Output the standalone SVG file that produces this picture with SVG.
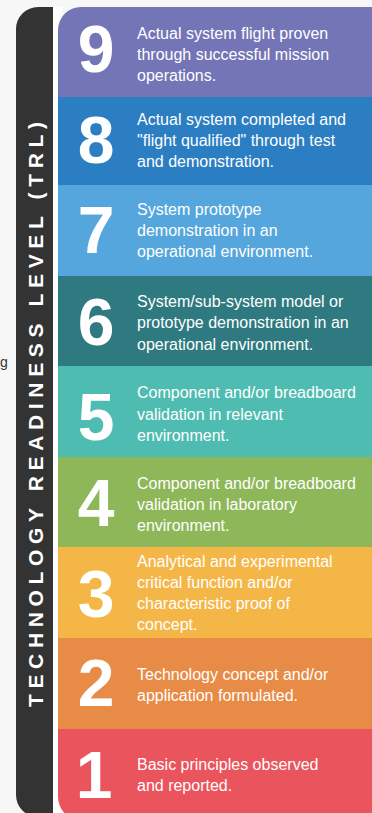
<svg xmlns="http://www.w3.org/2000/svg" width="372" height="813" viewBox="0 0 372 813">
<style>
.num{font-family:"Liberation Sans",Arial,sans-serif;font-weight:bold;font-size:66px;fill:#ffffff;text-anchor:middle}
.txt{font-family:"Liberation Sans",Arial,sans-serif;font-size:16px;fill:#ffffff}
.side{font-family:"Liberation Sans",Arial,sans-serif;font-weight:bold;font-size:21px;fill:#ffffff}
</style>
<defs>
<clipPath id="card"><rect x="58" y="7" width="340" height="813" rx="23" ry="23"/></clipPath>
</defs>
<rect x="0" y="0" width="372" height="813" fill="#f7f7f7"/>
<text x="0" y="367" font-family="Liberation Sans, Arial, sans-serif" font-size="14" fill="#333333">g</text>
<rect x="40" y="7" width="22" height="810" fill="#ffffff"/>
<g id="sidebar">
<path d="M38,7 H53 V817 H38 A22,22 0 0 1 16,795 V29 A22,22 0 0 1 38,7 Z" fill="#333333"/>
<text class="side" transform="translate(43,707) rotate(-90)" x="0" y="0" textLength="585" lengthAdjust="spacing">TECHNOLOGY READINESS LEVEL (TRL)</text>
</g>
<g clip-path="url(#card)">
<g id="trl9">
<rect x="58" y="7" width="314" height="90" fill="#7475b6"/>
<text class="num" x="96" y="72">9</text>
<text class="txt" x="137" y="38.5">Actual system flight proven</text>
<text class="txt" x="137" y="59.5">through successful mission</text>
<text class="txt" x="137" y="80.5">operations.</text>
</g>
<g id="trl8">
<rect x="58" y="97" width="314" height="88" fill="#2c7ec2"/>
<text class="num" x="96" y="163">8</text>
<text class="txt" x="137" y="124.5">Actual system completed and</text>
<text class="txt" x="137" y="145.5">"flight qualified" through test</text>
<text class="txt" x="137" y="166.5">and demonstration.</text>
</g>
<g id="trl7">
<rect x="58" y="185" width="314" height="91" fill="#55a6dc"/>
<text class="num" x="96" y="253">7</text>
<text class="txt" x="137" y="214.5">System prototype</text>
<text class="txt" x="137" y="235.5">demonstration in an</text>
<text class="txt" x="137" y="256.5">operational environment.</text>
</g>
<g id="trl6">
<rect x="58" y="276" width="314" height="90" fill="#2e7a80"/>
<text class="num" x="96" y="345">6</text>
<text class="txt" x="137" y="306.5">System/sub-system model or</text>
<text class="txt" x="137" y="328">prototype demonstration in an</text>
<text class="txt" x="137" y="349.5">operational environment.</text>
</g>
<g id="trl5">
<rect x="58" y="366" width="314" height="91" fill="#4fbcb1"/>
<text class="num" x="96" y="440">5</text>
<text class="txt" x="137" y="398">Component and/or breadboard</text>
<text class="txt" x="137" y="419.5">validation in relevant</text>
<text class="txt" x="137" y="441">environment.</text>
</g>
<g id="trl4">
<rect x="58" y="457" width="314" height="90" fill="#8db758"/>
<text class="num" x="96" y="526">4</text>
<text class="txt" x="137" y="488.5">Component and/or breadboard</text>
<text class="txt" x="137" y="509.5">validation in laboratory</text>
<text class="txt" x="137" y="530.5">environment.</text>
</g>
<g id="trl3">
<rect x="58" y="547" width="314" height="91" fill="#f5b648"/>
<text class="num" x="96" y="617">3</text>
<text class="txt" x="137" y="566.5">Analytical and experimental</text>
<text class="txt" x="137" y="587.5">critical function and/or</text>
<text class="txt" x="137" y="608.5">characteristic proof of</text>
<text class="txt" x="137" y="629.5">concept.</text>
</g>
<g id="trl2">
<rect x="58" y="638" width="314" height="91" fill="#e88b46"/>
<text class="num" x="96" y="706">2</text>
<text class="txt" x="137" y="680">Technology concept and/or</text>
<text class="txt" x="137" y="701">application formulated.</text>
</g>
<g id="trl1">
<rect x="58" y="729" width="314" height="91" fill="#ea545c"/>
<text class="num" x="94" y="798">1</text>
<text class="txt" x="137" y="770">Basic principles observed</text>
<text class="txt" x="137" y="791">and reported.</text>
</g>
</g>
<g id="connectors"/>
</svg>
